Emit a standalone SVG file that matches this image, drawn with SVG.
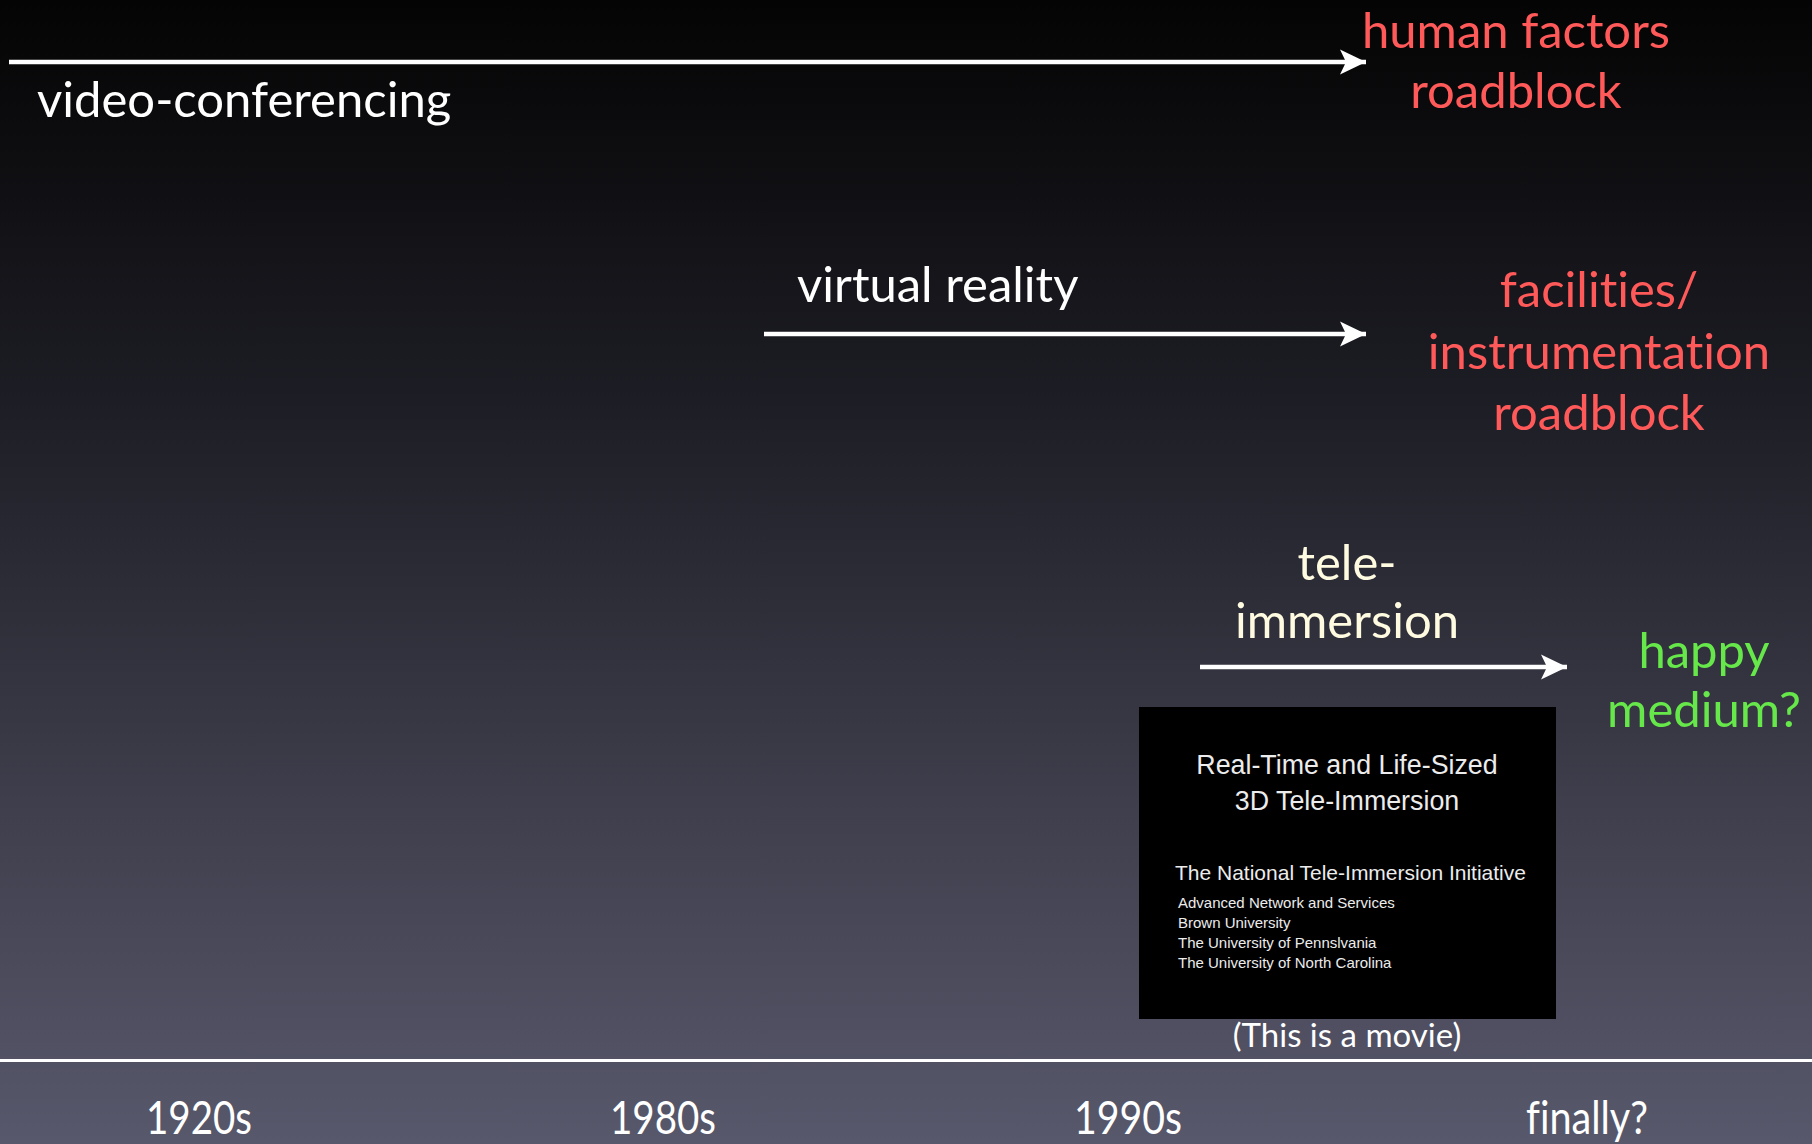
<svg xmlns="http://www.w3.org/2000/svg" width="1812" height="1144" viewBox="0 0 1812 1144">
  <defs>
    <linearGradient id="bg" x1="0" y1="0" x2="0" y2="1">
      <stop offset="0" stop-color="#040404"/>
      <stop offset="0.35" stop-color="#1d1d25"/>
      <stop offset="0.7" stop-color="#3e3e4c"/>
      <stop offset="1" stop-color="#58586c"/>
    </linearGradient>
    <marker id="head" markerUnits="userSpaceOnUse" markerWidth="30" markerHeight="30" viewBox="-27 -14 30 28" refX="0" refY="0" orient="auto">
      <path d="M0,0 L-26,-12.5 L-20,0 L-26,12.5 Z" fill="#ffffff"/>
    </marker>
    <style>
      .t { font-family: Lato, "Open Sans", "DejaVu Sans", sans-serif; font-variant-ligatures: none; font-feature-settings: "liga" 0, "clig" 0; }
      .w { fill: #ffffff; }
      .red { fill: #ff5959; }
      .cream { fill: #fffbe0; }
      .green { fill: #66e84a; }
      .big { font-size: 49px; }
      .lab { font-size: 46px; }
      .sm { font-size: 33px; }
      .c { text-anchor: middle; }
      .arrow { stroke: #ffffff; stroke-width: 4.5; fill: none; marker-end: url(#head); }
      .mv { font-family: "Liberation Sans", Arial, sans-serif; fill: #ececec; }
    </style>
  </defs>
  <rect x="0" y="0" width="1812" height="1144" fill="url(#bg)"/>

  <g id="connectors">
    <line class="arrow" x1="9" y1="62" x2="1366" y2="62"/>
    <line class="arrow" x1="764" y1="334" x2="1366" y2="334"/>
    <line class="arrow" x1="1200" y1="667" x2="1567" y2="667"/>
    <line x1="0" y1="1060.5" x2="1812" y2="1060.5" stroke="#ffffff" stroke-width="3"/>
  </g>

  <g id="video-conferencing">
    <text class="t w big" x="37" y="117">video-conferencing</text>
  </g>
  <g id="human-factors">
    <text class="t red big c" x="1516" y="48">human factors</text>
    <text class="t red big c" x="1516" y="108">roadblock</text>
  </g>
  <g id="virtual-reality">
    <text class="t w big" x="797" y="302">virtual reality</text>
  </g>
  <g id="facilities">
    <text class="t red big c" x="1599" y="307">facilities/</text>
    <text class="t red big c" x="1599" y="369">instrumentation</text>
    <text class="t red big c" x="1599" y="430">roadblock</text>
  </g>
  <g id="tele-immersion">
    <text class="t cream big c" x="1347" y="580">tele-</text>
    <text class="t cream big c" x="1347" y="638">immersion</text>
  </g>
  <g id="happy-medium">
    <text class="t green big c" x="1704" y="668">happy</text>
    <text class="t green big c" x="1704" y="727">medium?</text>
  </g>

  <g id="movie">
    <rect x="1139" y="707" width="417" height="312" fill="#000000"/>
    <text class="mv" x="1347" y="774" font-size="26.8" text-anchor="middle">Real-Time and Life-Sized</text>
    <text class="mv" x="1347" y="810" font-size="26.8" text-anchor="middle">3D Tele-Immersion</text>
    <text class="mv" x="1175" y="880" font-size="21">The National Tele-Immersion Initiative</text>
    <text class="mv" x="1178" y="908" font-size="15">Advanced Network and Services</text>
    <text class="mv" x="1178" y="928" font-size="15">Brown University</text>
    <text class="mv" x="1178" y="948" font-size="15">The University of Pennslvania</text>
    <text class="mv" x="1178" y="968" font-size="15">The University of North Carolina</text>
  </g>
  <g id="caption">
    <text class="t w sm c" x="1347" y="1047">(This is a movie)</text>
  </g>

  <g id="axis-labels">
    <text class="t w lab c" x="199" y="1134" textLength="106" lengthAdjust="spacingAndGlyphs">1920s</text>
    <text class="t w lab c" x="663" y="1134" textLength="106" lengthAdjust="spacingAndGlyphs">1980s</text>
    <text class="t w lab c" x="1128" y="1134" textLength="108" lengthAdjust="spacingAndGlyphs">1990s</text>
    <text class="t w lab c" x="1587" y="1134" textLength="122" lengthAdjust="spacingAndGlyphs">finally?</text>
  </g>
</svg>
